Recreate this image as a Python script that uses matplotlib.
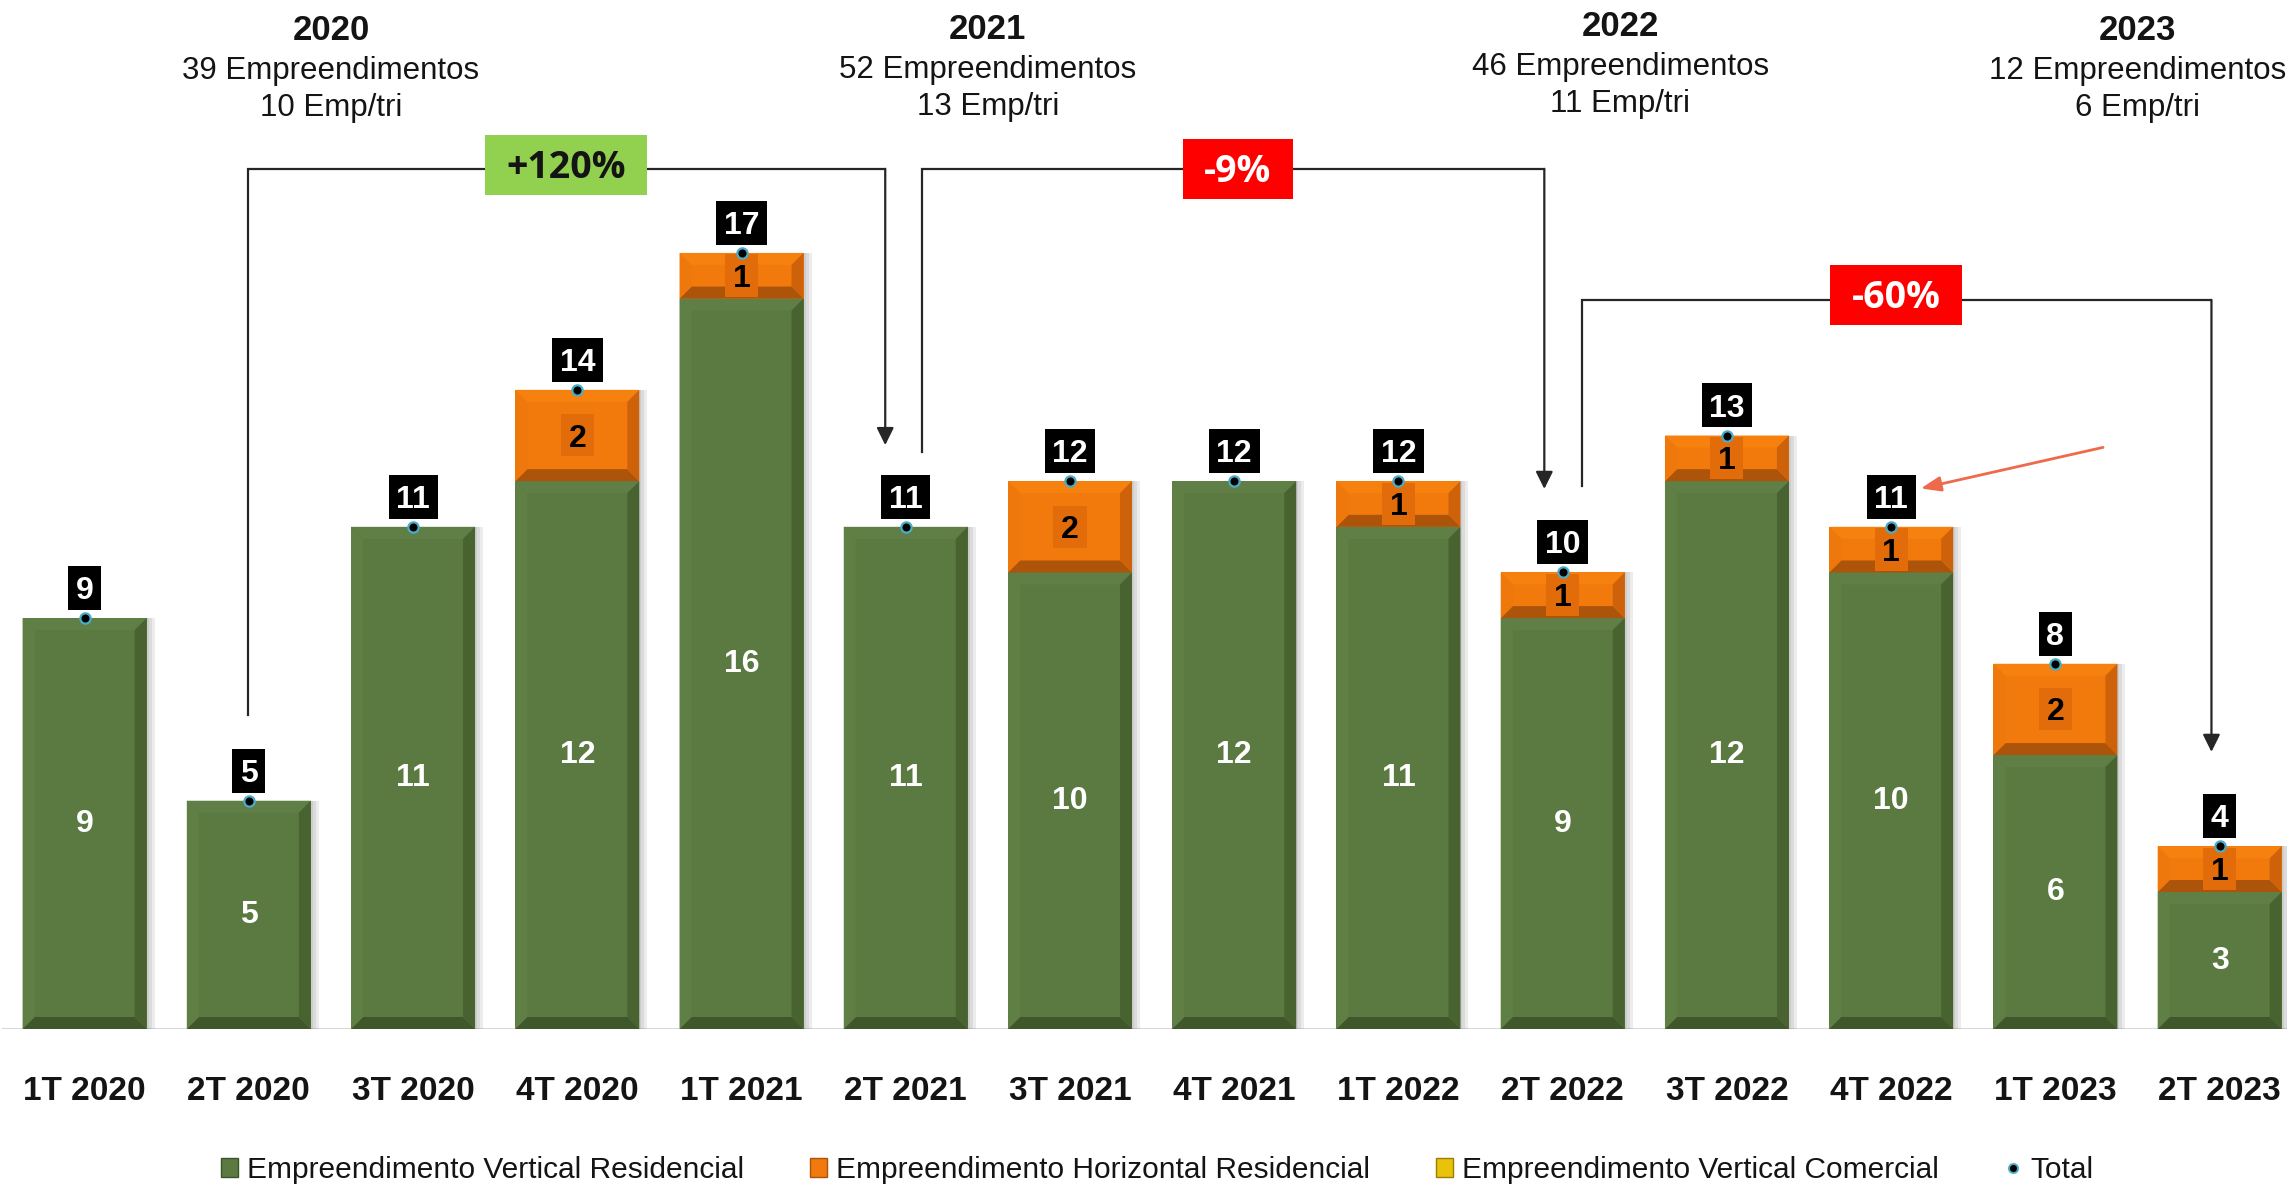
import matplotlib
matplotlib.use("Agg")
import matplotlib.pyplot as plt
from matplotlib import transforms
from matplotlib.patches import Polygon, Patch
from matplotlib.lines import Line2D
from matplotlib.path import Path

# ---------------- data ----------------
quarters = ['1T 2020', '2T 2020', '3T 2020', '4T 2020', '1T 2021', '2T 2021', '3T 2021',
            '4T 2021', '1T 2022', '2T 2022', '3T 2022', '4T 2022', '1T 2023', '2T 2023']
vertical_residencial = [9, 5, 11, 12, 16, 11, 10, 12, 11, 9, 12, 10, 6, 3]
horizontal_residencial = [0, 0, 0, 2, 1, 0, 2, 0, 1, 1, 1, 1, 2, 1]
vertical_comercial = [0, 0, 0, 0, 0, 0, 0, 0, 0, 0, 0, 0, 0, 0]

series_names = ['Empreendimento Vertical Residencial',
                'Empreendimento Horizontal Residencial',
                'Empreendimento Vertical Comercial',
                'Total']

years = ['2020', '2021', '2022', '2023']
year_empreendimentos = [39, 52, 46, 12]
year_emp_tri = [10, 13, 11, 6]

# quarter pairs compared by the bracket arrows (from index, to index)
comparisons = [(1, 5), (5, 9), (9, 13)]

# ---------------- style ----------------
plt.rcParams['font.family'] = ['Liberation Sans', 'DejaVu Sans']
GREEN = '#5B7A41'
ORANGE = '#F27A0C'
YELLOW = '#E8C30A'
TXT = '#141414'

W, H, DPI = 2287, 1186, 100
BASE_PX = 1029          # baseline position from the top, in pixels
XMIN, XMAX = -0.515, 13.41
YMAX = 22.54

fig = plt.figure(figsize=(W / DPI, H / DPI), dpi=DPI)
ax = fig.add_axes([0, (H - BASE_PX) / H, 1, BASE_PX / H])
ax.set_xlim(XMIN, XMAX)
ax.set_ylim(0, YMAX)
for s in ax.spines.values():
    s.set_visible(False)
ax.yaxis.set_visible(False)

ppx = W / (XMAX - XMIN)       # pixels per x unit
ppy = BASE_PX / YMAX          # pixels per y unit

x = list(range(len(quarters)))
totals = [a + b + c for a, b, c in zip(vertical_residencial, horizontal_residencial, vertical_comercial)]
bottom_h = vertical_residencial
bottom_c = [a + b for a, b in zip(vertical_residencial, horizontal_residencial)]
BAR_W = 0.755


def padded_box(padx, pady, lift=0.0):
    """Box style with separate horizontal / vertical padding (fraction of font size).
    `lift` moves the box upward so it sits centred on the glyphs rather than on the
    full ascent/descent extent of the line."""
    def box(x0, y0, width, height, mutation_size):
        px, py = padx * mutation_size, pady * mutation_size
        up = lift * mutation_size
        yb, yt = y0 - py + up, y0 + height + py + up
        verts = [(x0 - px, yb), (x0 + width + px, yb),
                 (x0 + width + px, yt), (x0 - px, yt), (x0 - px, yb)]
        codes = [Path.MOVETO, Path.LINETO, Path.LINETO, Path.LINETO, Path.CLOSEPOLY]
        return Path(verts, codes)
    return box


# soft drop shadow on the right of each stack
for off in (2, 5, 8):
    ax.bar([i + off / ppx for i in x], totals, width=BAR_W, color='#6F6F6F',
           alpha=0.13, zorder=1.5, linewidth=0)

bars_v = ax.bar(x, vertical_residencial, width=BAR_W, color=GREEN, zorder=2, linewidth=0)
bars_h = ax.bar(x, horizontal_residencial, width=BAR_W, bottom=bottom_h, color=ORANGE,
                zorder=2, linewidth=0)
bars_c = ax.bar(x, vertical_comercial, width=BAR_W, bottom=bottom_c, color=YELLOW,
                zorder=2, linewidth=0)


def bevel(rects, top, left, right, bottom, depth_px=12):
    dx, dy = depth_px / ppx, depth_px / ppy
    for r in rects:
        h = r.get_height()
        if h <= 0:
            continue
        x0, y0 = r.get_x(), r.get_y()
        x1, y1 = x0 + r.get_width(), y0 + h
        d = min(dy, h / 2)
        faces = [
            ([(x0, y1), (x1, y1), (x1 - dx, y1 - d), (x0 + dx, y1 - d)], top),
            ([(x0, y0), (x1, y0), (x1 - dx, y0 + d), (x0 + dx, y0 + d)], bottom),
            ([(x0, y0), (x0, y1), (x0 + dx, y1 - d), (x0 + dx, y0 + d)], left),
            ([(x1, y0), (x1, y1), (x1 - dx, y1 - d), (x1 - dx, y0 + d)], right),
        ]
        for pts, col in faces:
            ax.add_patch(Polygon(pts, closed=True, facecolor=col, edgecolor='none', zorder=2.1))


bevel(bars_v, top='#607F46', left='#5F7F45', right='#48632F', bottom='#40572C')
bevel(bars_h, top='#F6810E', left='#EF780C', right='#CD620A', bottom='#AD540B')
bevel(bars_c, top='#F2D23A', left='#EDC620', right='#BD9A08', bottom='#9C7E06')

# segment values
for i in x:
    v = vertical_residencial[i]
    if v > 0:
        ax.text(i, v / 2, str(v), ha='center', va='center', color='white',
                fontsize=23, fontweight='bold', zorder=4)
    hv = horizontal_residencial[i]
    if hv > 0:
        ax.text(i, bottom_h[i] + hv / 2 - 3 / ppy, str(hv), ha='center', va='center',
                color='black', fontsize=23, fontweight='bold', zorder=4,
                bbox=dict(boxstyle=padded_box(0.24, 0.19, 0.1), facecolor='#E36C0A',
                          edgecolor='none'))

# totals: dot on the top of each stack and a black value box above it
ax.scatter(x, totals, s=55, color='black', edgecolors='#4BACC6', linewidths=1.6, zorder=6,
           label=series_names[3])
for i in x:
    ax.text(i, totals[i] + 27 / ppy, str(totals[i]), ha='center', va='center', color='white',
            fontsize=23, fontweight='bold', zorder=6,
            bbox=dict(boxstyle=padded_box(0.24, 0.22, 0.1), facecolor='black',
                      edgecolor='none'))

# baseline
ax.axhline(0, xmin=0.0015, xmax=1, color='#D9D9D9', lw=2.2, zorder=1)

# category labels
ax.set_xticks(x, quarters, fontsize=24, fontweight='bold', color=TXT)
ax.tick_params(axis='x', length=0, pad=34)

# yearly headers
blend = transforms.blended_transform_factory(ax.transData, fig.transFigure)
header_x = [1.5, 5.5, 9.35, 12.5]
header_base = [(40, 79, 116), (39, 78, 115), (36, 75, 112), (40, 79, 116)]
for k, yr in enumerate(years):
    b1, b2, b3 = header_base[k]
    ax.text(header_x[k], 1 - b1 / H, yr, transform=blend, ha='center', va='baseline',
            fontsize=25, fontweight='bold', color=TXT)
    ax.text(header_x[k], 1 - b2 / H, f'{year_empreendimentos[k]} Empreendimentos',
            transform=blend, ha='center', va='baseline', fontsize=22.5, color=TXT)
    ax.text(header_x[k], 1 - b3 / H, f'{year_emp_tri[k]} Emp/tri',
            transform=blend, ha='center', va='baseline', fontsize=22.5, color=TXT)

# bracket arrows comparing quarters
LINE = '#262626'
bracket_top = [18.84, 18.84, 15.97]
start_gap = [1.88, 1.64, 1.90]
tip_gap = [1.79, 1.83, 2.07]
start_dx = [-0.005, 0.10, 0.12]
end_dx = [-0.125, -0.112, -0.05]
label_x = [2.93, 7.02, 11.03]
label_dy = [0.09, 0.0, 0.11]
for k, (a, b) in enumerate(comparisons):
    xa, xb = a + start_dx[k], b + end_dx[k]
    yt = bracket_top[k]
    ax.plot([xa, xa, xb], [totals[a] + start_gap[k], yt, yt], color=LINE, lw=1.6,
            solid_joinstyle='miter', zorder=3)
    ax.annotate('', xy=(xb, totals[b] + tip_gap[k]), xytext=(xb, yt),
                arrowprops=dict(arrowstyle='-|>,head_length=1.05,head_width=0.52',
                                color=LINE, lw=1.6, shrinkA=0, shrinkB=0), zorder=3)
    change = round((totals[b] / totals[a] - 1) * 100)
    label = f'{change:+d}%'
    up = change > 0
    ax.text(label_x[k], yt + label_dy[k] - 3 / ppy, label, ha='center', va='center',
            fontsize=27, fontweight='bold', family=['Open Sans', 'DejaVu Sans'],
            color=TXT if up else 'white', zorder=5,
            bbox=dict(boxstyle=padded_box(0.57, 0.29, 0.08),
                      facecolor='#92D050' if up else '#FF0000', edgecolor='none'))

# pointer to 4T 2022
ax.annotate('', xy=(11 + 0.18, totals[11] + 0.84), xytext=(11 + 1.29, totals[11] + 1.74),
            arrowprops=dict(arrowstyle='-|>,head_length=1.2,head_width=0.45',
                            color='#EE6A4A', lw=2.0, shrinkA=0, shrinkB=0), zorder=6)

# legend
handles = [
    Patch(facecolor=GREEN, edgecolor='#3C5229', linewidth=1),
    Patch(facecolor=ORANGE, edgecolor='#A9520B', linewidth=1),
    Patch(facecolor=YELLOW, edgecolor='#9C7E06', linewidth=1),
    Line2D([], [], marker='o', ls='', markerfacecolor='black', markeredgecolor='#4BACC6',
           markersize=6.5, markeredgewidth=1.4),
]
fig.legend(handles, series_names, loc='center', bbox_to_anchor=(0.506, 0.0135), ncol=4,
           frameon=False, fontsize=21.5, handlelength=0.58, handleheight=0.58,
           handletextpad=0.3, columnspacing=2.2, borderpad=0, labelcolor=TXT)

fig.savefig('out.png', dpi=DPI)
